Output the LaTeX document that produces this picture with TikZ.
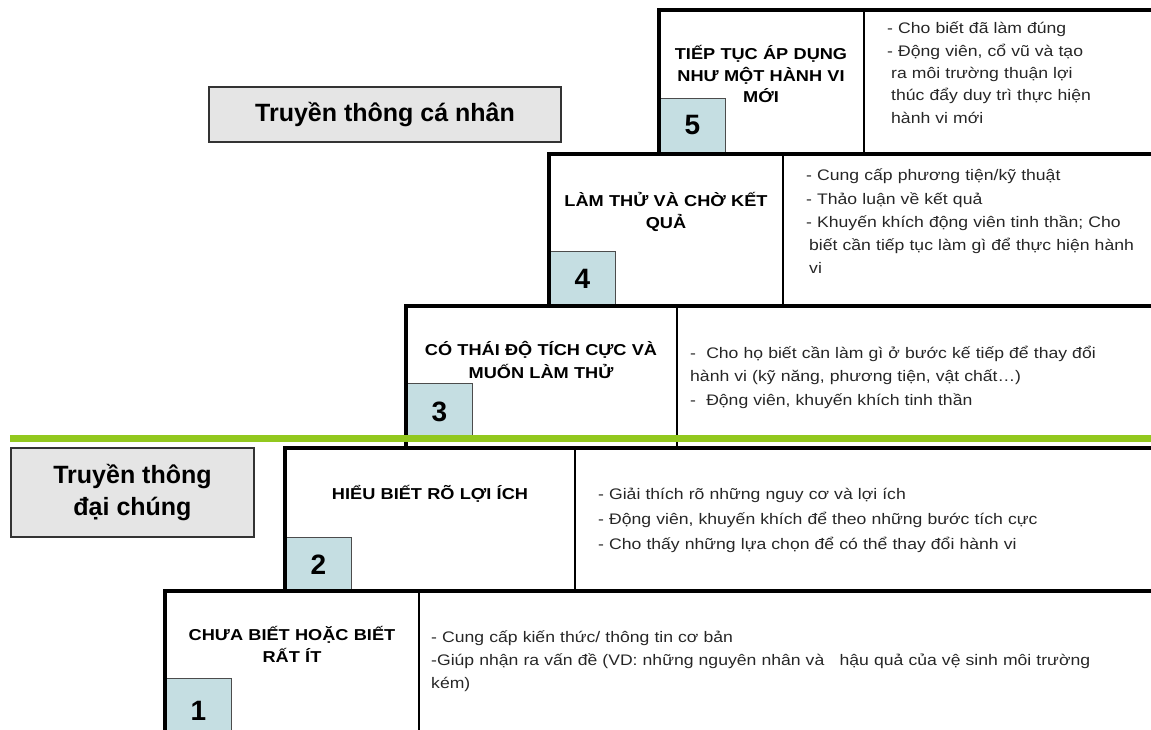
\documentclass[tikz,border=0pt]{standalone}
\usepackage{fontspec}
\setmainfont{Liberation Sans}
\newfontfamily\widesans{Liberation Sans}[FakeStretch=1.15]
\usetikzlibrary{positioning}
\definecolor{stepblue}{RGB}{197,222,226}
\definecolor{barlime}{RGB}{146,200,30}
\definecolor{labelgray}{RGB}{229,229,229}

\begin{document}
\begin{tikzpicture}[x=1pt, y=-1pt,
  edge/.style={line width=4pt},
  divider/.style={line width=2.5pt},
  numbox/.style={draw=black!70, line width=1pt, fill=stepblue, minimum width=66pt, minimum height=54pt, anchor=north west, inner sep=0pt, font=\bfseries\fontsize{28}{28}\selectfont},
  title/.style={anchor=base, text width=250pt, align=center, inner sep=0pt, font=\widesans\bfseries\fontsize{15.8}{21.5}\selectfont},
  body/.style={anchor=base west, text width=720pt, align=left, inner sep=0pt, text=black!85},
  mediabox/.style={draw=black!80, line width=1.2pt, fill=labelgray, align=center, font=\bfseries\fontsize{25}{32}\selectfont}
]
\useasboundingbox (0,0) rectangle (1151,730);

% number boxes
\node[numbox] (n5) at (659,98) {5};
\node[numbox] (n4) at (549,251) {4};
\node[numbox, minimum height=57pt] (n3) at (406,383) {3};
\node[numbox] (n2) at (285,537) {2};
\node[numbox, minimum height=64pt] (n1) at (165,678) {1};

% staircase
\draw[edge] (1160,10) -- (659,10) -- (659,154);
\draw[edge] (1160,154) -- (549,154) -- (549,306);
\draw[edge] (1160,306) -- (406,306) -- (406,448);
\draw[edge] (1160,448) -- (285,448) -- (285,591);
\draw[edge] (1160,591) -- (165,591) -- (165,745);
\draw[divider] (864,10) -- (864,154);
\draw[divider] (783,154) -- (783,306);
\draw[divider] (677,306) -- (677,448);
\draw[divider] (575,448) -- (575,591);
\draw[divider] (419,591) -- (419,745);

\draw[barlime, line width=7pt] (10,438) -- (1160,438);

% step titles
\node[title] (title5) at (761,60) {TIẾP TỤC ÁP DỤNG\\NHƯ MỘT HÀNH VI\\MỚI};
\node[title] (title4) at (666,207) {LÀM THỬ VÀ CHỜ KẾT\\QUẢ};
\node[title, font=\widesans\bfseries\fontsize{15.8}{23}\selectfont] (title3) at (541,355) {CÓ THÁI ĐỘ TÍCH CỰC VÀ\\MUỐN LÀM THỬ};
\node[title] (title2) at (430,499) {HIỂU BIẾT RÕ LỢI ÍCH};
\node[title, font=\widesans\bfseries\fontsize{15.8}{22}\selectfont] (title1) at (292,640) {CHƯA BIẾT HOẶC BIẾT\\RẤT ÍT};

% what to do at each step
\node[body, font=\widesans\fontsize{15.3}{22.3}\selectfont] (body5) at (887,34) {- Cho biết đã làm đúng\\- Động viên, cổ vũ và tạo\\\hspace*{4pt}ra môi trường thuận lợi\\\hspace*{4pt}thúc đẩy duy trì thực hiện\\\hspace*{4pt}hành vi mới};
\node[body, font=\widesans\fontsize{15.3}{23.2}\selectfont] (body4) at (806,181) {- Cung cấp phương tiện/kỹ thuật\\- Thảo luận về kết quả\\- Khuyến khích động viên tinh thần; Cho\\\hspace*{3pt}biết cần tiếp tục làm gì để thực hiện hành\\\hspace*{3pt}vi};
\node[body, font=\widesans\fontsize{15.3}{23.5}\selectfont] (body3) at (690,358) {-~ Cho họ biết cần làm gì ở bước kế tiếp để thay đổi\\hành vi (kỹ năng, phương tiện, vật chất…)\\-~ Động viên, khuyến khích tinh thần};
\node[body, font=\widesans\fontsize{15.3}{25}\selectfont] (body2) at (598,499) {- Giải thích rõ những nguy cơ và lợi ích\\- Động viên, khuyến khích để theo những bước tích cực\\- Cho thấy những lựa chọn để có thể thay đổi hành vi};
\node[body, font=\widesans\fontsize{15.3}{23}\selectfont] (body1) at (431,642) {- Cung cấp kiến thức/ thông tin cơ bản\\-Giúp nhận ra vấn đề (VD: những nguyên nhân và~~ hậu quả của vệ sinh môi trường\\kém)};

% communication channels
\node[mediabox, minimum width=352pt, minimum height=55pt] (personal) at (385,114.5) {Truyền thông cá nhân};
\node[mediabox, minimum width=243pt, minimum height=89pt] (mass) at (132.5,492.5) {Truyền thông\\đại chúng};
\end{tikzpicture}
\end{document}
